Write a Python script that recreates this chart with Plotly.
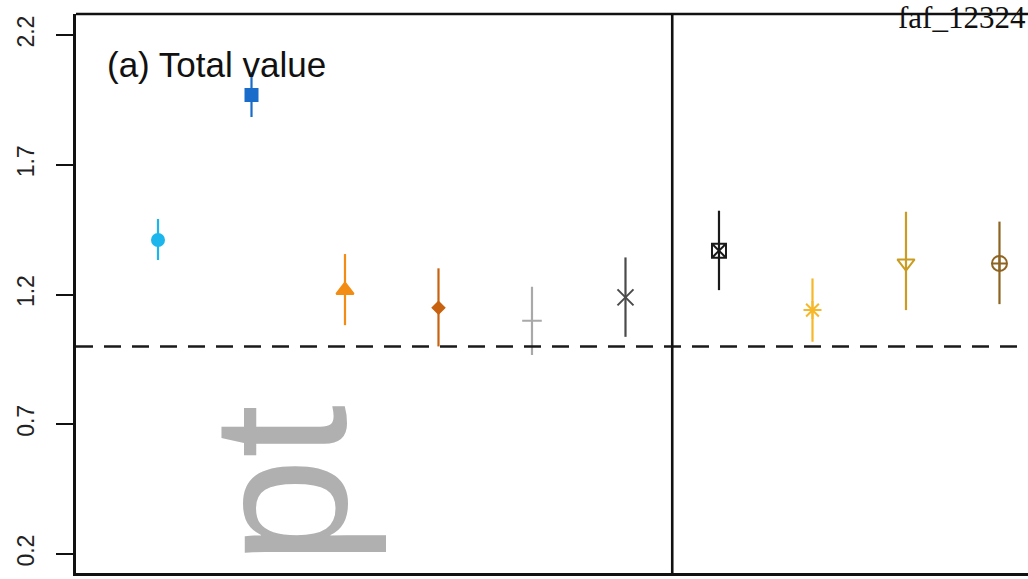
import plotly.graph_objects as go

# Group positions along the x axis (no tick labels are shown)
positions = [1, 2, 3, 4, 5, 6, 7, 8, 9, 10]

# Point estimates and interval bounds
estimate = [1.410, 1.969, 1.217, 1.149, 1.099, 1.189, 1.369, 1.140, 1.321, 1.320]
lower = [1.333, 1.884, 1.082, 1.000, 0.967, 1.037, 1.217, 1.018, 1.140, 1.163]
upper = [1.491, 2.057, 1.356, 1.301, 1.230, 1.343, 1.523, 1.262, 1.519, 1.481]

# y-axis ticks
y_ticks = [0.2, 0.7, 1.2, 1.7, 2.2]
y_tick_labels = ["0.2", "0.7", "1.2", "1.7", "2.2"]

# Reference level and panel divider
ref_level = 1.0
divider_at = 6.5

# Marker styles per group
colors = ["#1DB6EC", "#1A6CCB", "#F28C12", "#C9620F", "#A9A9A9",
          "#4A4A4A", "#1A1A1A", "#F6B82A", "#C99C22", "#8E6422"]
symbols = ["circle", "square", "triangle-up", "diamond", "cross-thin",
           "x-thin", "square-x-open", "asterisk-open", "triangle-down-open",
           "circle-cross-open"]
sizes = [12, 12, 15, 9, 14, 16, 14, 15, 15, 15]

W, H = 1028, 579
M_L, M_R, M_T, M_B = 76, 0, 14, 6
plot_w = W - M_L - M_R
plot_h = H - M_T - M_B

fig = go.Figure()

for i in range(len(positions)):
    fig.add_trace(go.Scatter(
        x=[positions[i]],
        y=[estimate[i]],
        mode="markers",
        marker=dict(symbol=symbols[i], size=sizes[i], color=colors[i],
                    line=dict(color=colors[i], width=2)),
        error_y=dict(type="data", symmetric=False,
                     array=[upper[i] - estimate[i]],
                     arrayminus=[estimate[i] - lower[i]],
                     color=colors[i], thickness=2.2, width=0),
        showlegend=False,
        cliponaxis=False,
    ))

# Dashed reference line
fig.add_shape(type="line", xref="paper", yref="y", x0=0, x1=1,
              y0=ref_level, y1=ref_level,
              line=dict(color="#1A1A1A", width=2.5, dash="17px,11px"))
# Vertical divider between the two panels
fig.add_shape(type="line", xref="x", yref="paper", x0=divider_at, x1=divider_at,
              y0=0, y1=1, line=dict(color="#111111", width=2.6))
# Top border of the plotting box
fig.add_shape(type="line", xref="paper", yref="paper", x0=0, x1=1, y0=1, y1=1,
              line=dict(color="#111111", width=2.6))

def px_to_paper_x(px):
    return (px - M_L) / plot_w

def px_to_paper_y(py):
    return (H - M_B - py) / plot_h

# Panel label
fig.add_annotation(text="(a) Total value", xref="paper", yref="paper",
                   x=px_to_paper_x(105), y=px_to_paper_y(64),
                   xanchor="left", yanchor="middle", showarrow=False,
                   font=dict(family="Liberation Sans, Arial, sans-serif",
                             size=35, color="#111111"))

# Identifier in the top-right corner
fig.add_annotation(text="faf_12324", xref="paper", yref="paper",
                   x=1.0, y=px_to_paper_y(17),
                   xanchor="right", yanchor="middle", showarrow=False,
                   font=dict(family="Liberation Serif, serif", size=31,
                             color="#111111"))

# Grey rotated watermark
fig.add_annotation(text="pt", xref="paper", yref="paper",
                   x=px_to_paper_x(279), y=px_to_paper_y(485),
                   xanchor="center", yanchor="middle", showarrow=False,
                   textangle=-90,
                   font=dict(family="Liberation Sans, Arial, sans-serif",
                             size=192, color="#B0B0B0"))

fig.update_layout(
    width=W, height=H,
    margin=dict(l=M_L, r=M_R, t=M_T, b=M_B, pad=0),
    paper_bgcolor="white", plot_bgcolor="white",
    showlegend=False,
    xaxis=dict(range=[0.123, 10.305], showgrid=False, zeroline=False,
               showticklabels=False, ticks="", showline=True,
               linecolor="#111111", linewidth=2.6),
    yaxis=dict(range=[0.127, 2.281], showgrid=False, zeroline=False,
               tickvals=y_ticks, ticktext=y_tick_labels,
               ticks="outside", ticklen=17, tickwidth=2.4, tickcolor="#111111",
               tickangle=-90, ticklabelstandoff=13,
               tickfont=dict(family="Liberation Sans, Arial, sans-serif",
                             size=23, color="#222222"),
               showline=True, linecolor="#111111", linewidth=2.6),
)

fig.write_html("out.html")
